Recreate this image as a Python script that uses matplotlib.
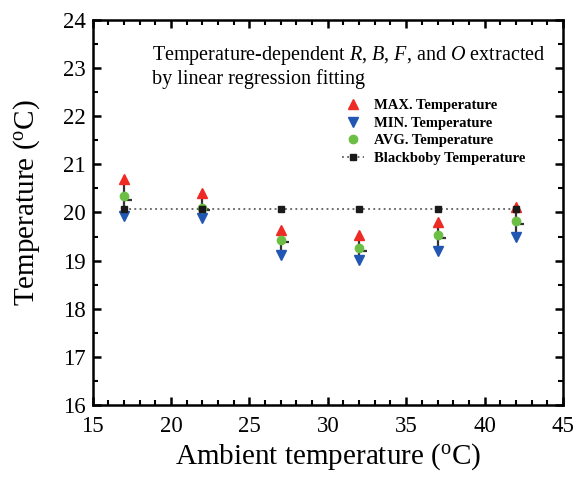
import matplotlib
matplotlib.use("Agg")
import matplotlib.pyplot as plt
from matplotlib.path import Path

plt.rcParams['font.family'] = ['Liberation Serif', 'DejaVu Serif']
plt.rcParams['mathtext.fontset'] = 'custom'
plt.rcParams['mathtext.rm'] = 'Liberation Serif'
plt.rcParams['mathtext.it'] = 'Liberation Serif:italic'

# Ambient temperatures (°C)
ambient = [17, 22, 27, 32, 37, 42]
# Extracted temperatures (°C)
max_temp = [20.70, 20.40, 19.63, 19.53, 19.81, 20.11]
min_temp = [19.92, 19.88, 19.11, 19.02, 19.21, 19.50]
avg_temp = [20.34, 20.09, 19.42, 19.26, 19.53, 19.82]
close_temp = [20.27, 20.05, 19.38, 19.21, 19.48, 19.77]
blackbody = [20.07, 20.07, 20.07, 20.07, 20.07, 20.07]

c_red = '#ee2a24'
c_blue = '#2157b3'
c_green = '#6cbe45'
c_black = '#1a1a1a'

fig = plt.figure(figsize=(5.8, 4.8), dpi=100)
ax = fig.add_axes([0.1595, 0.15625, 0.8112, 0.8021])

# high-low bars with a right-hand tick
ax.vlines(ambient, min_temp, max_temp, colors='#333333', lw=1.6, zorder=2)
tick_marker = Path([(0, 0), (1, 0)], [Path.MOVETO, Path.LINETO])
ax.plot(ambient, close_temp, ls='none', marker=tick_marker, ms=11,
        mec='#333333', mew=1.6, zorder=2)

ax.plot(ambient, max_temp, ls='none', marker='^', ms=7.3, color=c_red,
        mec=c_red, label='MAX. Temperature', zorder=3)
ax.plot(ambient, min_temp, ls='none', marker='v', ms=7.3, color=c_blue,
        mec=c_blue, label='MIN. Temperature', zorder=3)
ax.plot(ambient, avg_temp, ls='none', marker='o', ms=6, color=c_green,
        mec=c_green, label='AVG. Temperature', zorder=3)
ax.plot(ambient, blackbody, ls=(0, (1.2, 2.2)), lw=1.1, color='#444444',
        marker='s', ms=5, mfc=c_black, mec=c_black,
        label='Blackboby Temperature', zorder=4)

ax.set_xlim(15, 45)
ax.set_ylim(16, 24)
ax.set_xticks(range(15, 46, 5))
ax.set_yticks(range(16, 25, 1))
ax.set_xticks(range(15, 46, 1), minor=True)
ax.set_yticks([16 + 0.5 * i for i in range(17)], minor=True)

for s in ax.spines.values():
    s.set_linewidth(1.8)
ax.tick_params(which='both', direction='in', top=True, right=True,
               labeltop=False, labelright=False)
ax.tick_params(which='major', length=6, width=1.8, labelsize=16.5)
ax.tick_params(axis='x', which='major', pad=8)
ax.tick_params(axis='y', which='major', pad=5)
ax.tick_params(which='minor', length=3.5, width=1.5)

ax.set_xlabel('Ambient temperature ($^{\\mathrm{o}}$C)', fontsize=21, va='top')
ax.xaxis.set_label_coords(0.5, -0.095)
ax.set_ylabel('Temperature ($^{\\mathrm{o}}$C)', fontsize=21)
ax.yaxis.set_label_coords(-0.107, 0.527)

ax.text(0.126, 0.937,
        'Temperature-dependent $R$, $B$, $F$, and $O$ extracted\n'
        'by linear regression fitting',
        transform=ax.transAxes, ha='left', va='top', fontsize=14.5,
        linespacing=1.1)

leg = ax.legend(loc='upper left', bbox_to_anchor=(0.53, 0.795), frameon=False,
                prop={'weight': 'bold', 'size': 10.5}, handlelength=1.5,
                handletextpad=0.7, labelspacing=0.3, borderpad=0,
                borderaxespad=0)

fig.savefig('out.png', dpi=100)
